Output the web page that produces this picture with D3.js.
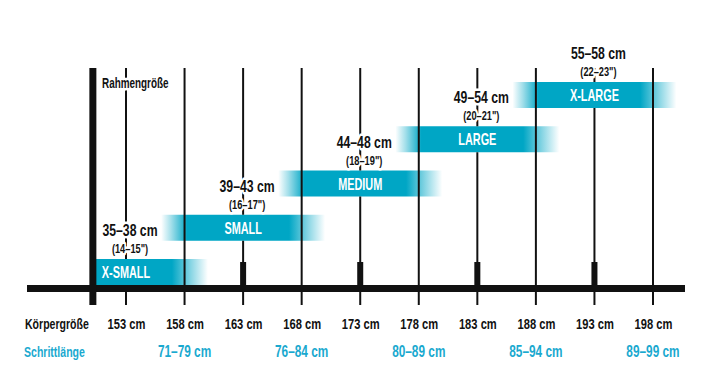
<!DOCTYPE html>
<html>
<head>
<meta charset="utf-8">
<script src="https://cdn.jsdelivr.net/npm/d3@7"></script>
<style>
  body { margin: 0; background: #fff; }
  svg text { font-family: "Liberation Sans", Arial, sans-serif; font-weight: bold; }
</style>
</head>
<body>
<svg id="chart" width="712" height="385"></svg>
<script>
// Körpergröße (cm) an den Gitterlinien
var heights = [153, 158, 163, 168, 173, 178, 183, 188, 193, 198];
// Rahmengrößen, ihre Mitte auf der Körpergröße-Achse
var sizes = ["X-SMALL", "SMALL", "MEDIUM", "LARGE", "X-LARGE"];
var sizeCenter = [153, 163, 173, 183, 193];
var frameCm = ["35\u201338 cm", "39\u201343 cm", "44\u201348 cm", "49\u201354 cm", "55\u201358 cm"];
var frameInch = ["(14\u201315\")", "(16\u201317\")", "(18\u201319\")", "(20\u201321\")", "(22\u201323\")"];
var barFrom = [146, 156, 166, 176, 186];
var barTo = [160, 170, 180, 190, 200];
// Schrittlänge
var inseamAt = [158, 168, 178, 188, 198];
var inseam = ["71\u201379 cm", "76\u201384 cm", "80\u201389 cm", "85\u201394 cm", "89\u201399 cm"];
var axisStart = 150;

var teal = "#00a6c5";
var ink = "#111";

var svg = d3.select("#chart");
var x = d3.scaleLinear().domain([153, 198]).range([126, 653]);
var y = d3.scalePoint().domain(sizes).range([259, 82]);
var barH = 26;
var yTop = 68, yBase = 285, yBottom = 305;

// schmale Schrift: Text um seinen Anker horizontal stauchen
function label(g, px, py, str, size, sx) {
    return g.append("text")
        .attr("transform", "translate(" + px + "," + py + ") scale(" + sx + ",1)")
        .attr("font-size", size).text(str);
}
function halo(sel) {
    return sel.attr("stroke", "#fff").attr("stroke-width", 5).attr("paint-order", "stroke").attr("stroke-linejoin", "round");
}

// Verlauf für die Balken
var defs = svg.append("defs");
var grad = defs.append("linearGradient").attr("id", "fade");
[[0, 0], [0.06, 0.35], [0.16, 1], [0.78, 1], [0.9, 0.45], [1, 0]].forEach(function (s) {
    grad.append("stop").attr("offset", s[0]).attr("stop-color", teal).attr("stop-opacity", s[1]);
});
defs.append("clipPath").attr("id", "clipAxis")
    .append("rect").attr("x", x(axisStart) + 3).attr("y", 0).attr("width", 712).attr("height", 385);

// Balken
var bars = svg.append("g").attr("clip-path", "url(#clipAxis)");
sizes.forEach(function (s, i) {
    bars.append("rect")
        .attr("x", x(barFrom[i])).attr("y", y(s))
        .attr("width", x(barTo[i]) - x(barFrom[i])).attr("height", barH)
        .attr("fill", "url(#fade)");
});

// Gitterlinien (in den Balkenmitten unterbrochen)
var grid = svg.append("g").attr("stroke", ink).attr("stroke-width", 2);
heights.forEach(function (h) {
    var k = sizeCenter.indexOf(h);
    if (k < 0) {
        grid.append("line").attr("x1", x(h)).attr("x2", x(h)).attr("y1", yTop).attr("y2", yBottom);
    } else {
        grid.append("line").attr("x1", x(h)).attr("x2", x(h)).attr("y1", yTop).attr("y2", y(sizes[k]));
        grid.append("line").attr("x1", x(h)).attr("x2", x(h)).attr("y1", y(sizes[k]) + barH).attr("y2", yBottom);
    }
});

// Blöcke auf der Achse
sizeCenter.slice(1).forEach(function (c) {
    svg.append("rect").attr("x", x(c) - 3).attr("y", 262).attr("width", 6).attr("height", yBase - 262).attr("fill", ink);
});

// Achsen
svg.append("rect").attr("x", 27).attr("y", yBase).attr("width", 658).attr("height", 7).attr("fill", ink);
svg.append("rect").attr("x", x(axisStart) - 1.5).attr("y", yTop).attr("width", 7).attr("height", yBottom - yTop).attr("fill", ink);

// Texte
var txt = svg.append("g").attr("fill", ink);
halo(label(txt, 102, 88, "Rahmengröße", 15, 0.66));

sizes.forEach(function (s, i) {
    var cx = x(sizeCenter[i]);
    halo(label(txt, cx + 4, y(s) - 23, frameCm[i], 17, 0.72).attr("text-anchor", "middle"));
    halo(label(txt, cx + 4, y(s) - 6, frameInch[i], 12.5, 0.74).attr("text-anchor", "middle"));
    label(txt, cx, y(s) + barH / 2 + 6, s, 17, 0.64).attr("text-anchor", "middle")
        .attr("fill", "#fff").attr("font-weight", "600");
});

// Körpergröße
var axis = d3.axisBottom(x).tickValues(heights).tickSize(0).tickPadding(0)
    .tickFormat(function (d) { return d + " cm"; });
var ax = svg.append("g").attr("transform", "translate(0,329)").call(axis);
ax.select(".domain").remove();
ax.attr("font-family", null).attr("font-size", null);
ax.selectAll("text").attr("font-size", 15.5).attr("fill", ink)
    .attr("dy", null).attr("y", null).attr("transform", "scale(0.72,1)");

label(txt, 25, 329, "Körpergröße", 15.5, 0.68);
label(txt, 24, 357, "Schrittlänge", 15.5, 0.68).attr("fill", "#1aa9cf");
inseamAt.forEach(function (d, i) {
    label(txt, x(d), 357, inseam[i], 16, 0.74).attr("text-anchor", "middle").attr("fill", "#1aa9cf");
});
</script>
</body>
</html>
